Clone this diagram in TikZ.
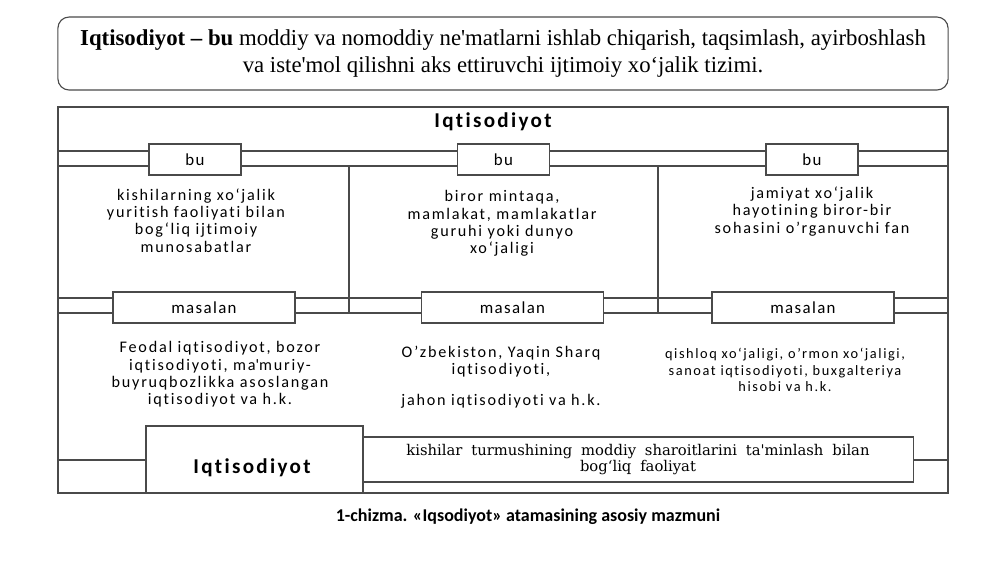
\documentclass[tikz,border=0pt]{standalone}
\usepackage{fontspec}
\setmainfont{Liberation Serif}
\newfontfamily\kenglik[LetterSpace=11, Ligatures=NoCommon]{Carlito}
\newfontfamily\yorliqf[LetterSpace=8, Ligatures=NoCommon]{Carlito}
\newfontfamily\carl{Carlito}
\newfontfamily\keng{DejaVu Serif}
\usetikzlibrary{positioning}
\definecolor{chiz}{HTML}{4A4A4A}
\newcommand{\ap}{\textquotesingle}
\newcommand{\kengbosh}{\spaceskip=0.6em\relax}

\begin{document}
\begin{tikzpicture}[x=0.025cm, y=-0.025cm,
    every node/.style={inner sep=0pt, align=center},
    quti/.style={draw=chiz, line width=0.8pt, fill=white},
    chiziq/.style={draw=chiz, line width=0.8pt},
    matn/.style={font=\kenglik\fontsize{11.5}{12.3}\selectfont},
    yorliq/.style={font=\yorliqf\fontsize{12}{14}\selectfont},
    qora/.style={font=\kenglik\bfseries\fontsize{15}{16}\selectfont}]

    \useasboundingbox (0,0) rectangle (1000,562);

    % Ta'rif
    \node[draw=chiz, line width=0.8pt, rounded corners=8pt, minimum width=22.25cm, minimum height=1.825cm,
      font=\fontsize{16.2}{19.5}\selectfont] (tarif) at (503,53.5)
      {\textbf{Iqtisodiyot – bu} moddiy va nomoddiy ne\ap matlarni ishlab chiqarish, taqsimlash, ayirboshlash\\
       va iste\ap mol qilishni aks ettiruvchi ijtimoiy xo‘jalik tizimi.};

    % Ramka
    \node[draw=chiz, line width=1pt, minimum width=22.25cm, minimum height=9.65cm] (ramka) at (503,300) {};
    \node[qora] (sarl) at (493,122) {Iqtisodiyot};

    % Chiziqlar
    \coordinate (h1) at (0,151);
    \coordinate (h2) at (0,166);
    \coordinate (h3) at (0,298);
    \coordinate (h4) at (0,313);
    \coordinate (h5) at (0,460);
    \coordinate (v1) at (349,0);
    \coordinate (v2) at (658,0);

    % bu
    \foreach \n/\x in {1/195, 2/503.5, 3/812}
      \node[quti, yorliq, minimum width=2.3cm, minimum height=0.775cm] (bu\n) at (\x,159.5) {bu};
    \foreach \y in {h1, h2} {
      \draw[chiziq] (ramka.west |- \y) -- (bu1.west |- \y);
      \draw[chiziq] (bu1.east |- \y) -- (bu2.west |- \y);
      \draw[chiziq] (bu2.east |- \y) -- (bu3.west |- \y);
      \draw[chiziq] (bu3.east |- \y) -- (ramka.east |- \y);
    }
    \node[matn] (bt1) at (196,220.5) {kishilarning xo‘jalik\\ yuritish faoliyati bilan\\ bog‘liq ijtimoiy\\ munosabatlar};
    \node[matn] (bt2) at (502,223.5) {biror mintaqa,\\ mamlakat, mamlakatlar\\ guruhi yoki dunyo\\ xo‘jaligi};
    \node[matn] (bt3) at (812,211.5) {jamiyat xo‘jalik\\ hayotining biror-bir\\ sohasini o’rganuvchi fan};

    % masalan
    \foreach \n/\x in {1/204, 2/512.5, 3/803}
      \node[quti, yorliq, minimum width=4.55cm, minimum height=0.775cm] (mas\n) at (\x,307.5) {masalan};
    \foreach \y in {h3, h4} {
      \draw[chiziq] (ramka.west |- \y) -- (mas1.west |- \y);
      \draw[chiziq] (mas1.east |- \y) -- (mas2.west |- \y);
      \draw[chiziq] (mas2.east |- \y) -- (mas3.west |- \y);
      \draw[chiziq] (mas3.east |- \y) -- (ramka.east |- \y);
    }
    \draw[chiziq] (v1 |- h2) -- (v1 |- h4);
    \draw[chiziq] (v2 |- h2) -- (v2 |- h4);
    \node[matn] (mt1) at (220,374.5) {Feodal iqtisodiyot, bozor\\ iqtisodiyoti, ma\ap muriy-\\ buyruqbozlikka asoslangan\\ iqtisodiyot va h.k.};
    \node[matn] (mt2) at (501,377) {O’zbekiston, Yaqin Sharq\\ iqtisodiyoti,\\[0.35cm] jahon iqtisodiyoti va h.k.};
    \node[matn, font=\kenglik\fontsize{10.2}{11.5}\selectfont] (mt3) at (785,370) {qishloq xo‘jaligi, o’rmon xo‘jaligi,\\ sanoat iqtisodiyoti, buxgalteriya\\ hisobi va h.k.};

    % Iqtisodiyot -- faoliyat
    \node[quti, minimum width=13.75cm, minimum height=1.125cm,
      font=\keng\fontsize{10.5}{11.6}\selectfont\kengbosh] (fao) at (638,459.5)
      {kishilar turmushining moddiy sharoitlarini ta\ap minlash bilan\\ bog‘liq faoliyat};
    \node[quti, minimum width=5.425cm, minimum height=1.675cm] (iqt) at (254.5,459.5) {};
    \node[qora] (iqtm) at (252,468) {Iqtisodiyot};
    \draw[chiziq] (ramka.west |- h5) -- (iqt.west |- h5);
    \draw[chiziq] (fao.east |- h5) -- (ramka.east |- h5);

    % Izoh
    \node[font=\carl\bfseries\fontsize{12.8}{14}\selectfont] (izoh) at (528,517)
      {1-chizma. «Iqsodiyot» atamasining asosiy mazmuni};

\end{tikzpicture}
\end{document}
